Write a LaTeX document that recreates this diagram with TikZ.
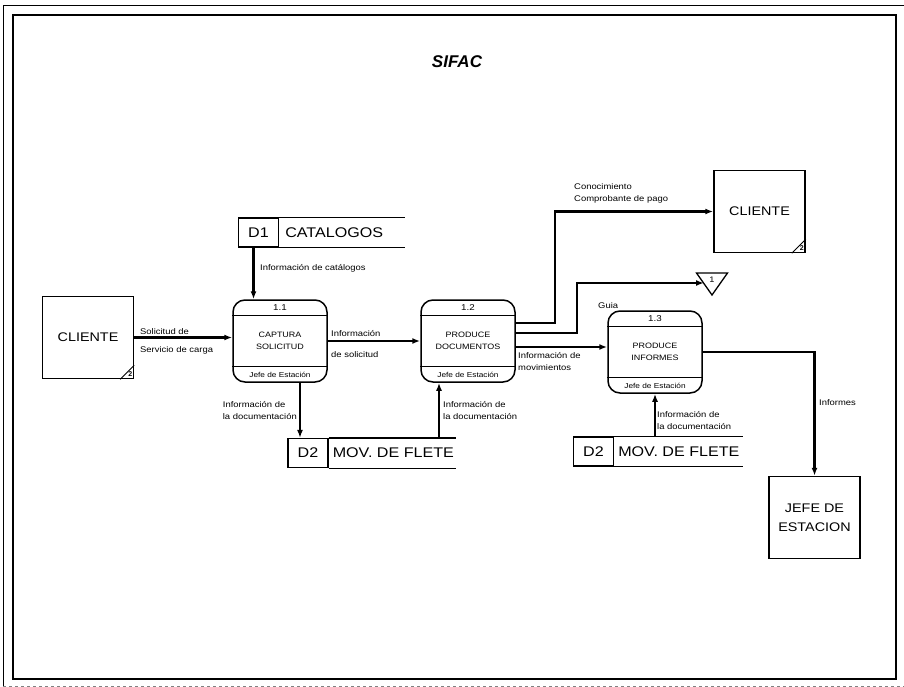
\documentclass[tikz,border=0pt]{standalone}
\usepackage{fontspec}
\setmainfont{Liberation Sans}
\newfontfamily\widesans[FakeStretch=1.15]{Liberation Sans}
\usetikzlibrary{arrows.meta,positioning}

\begin{document}
\begin{tikzpicture}[
    x=1pt, y=-1pt,
    entity/.style={rectangle, draw, line width=1.5pt, minimum width=91pt, minimum height=82pt, align=center, font=\widesans\fontsize{12.5}{19}\selectfont},
    proc/.style={rectangle, rounded corners=12pt, draw, line width=1.5pt, minimum width=94pt, minimum height=82pt, align=center, font=\widesans\fontsize{7.8}{12}\selectfont},
    procnum/.style={inner sep=0pt, font=\widesans\fontsize{8.5}{10}\selectfont},
    procrole/.style={inner sep=0pt, font=\widesans\fontsize{7.2}{9}\selectfont},
    storeid/.style={rectangle, draw, line width=1.2pt, minimum width=40pt, minimum height=29pt, inner sep=0pt, font=\widesans\fontsize{14}{16}\selectfont},
    storelbl/.style={inner sep=0pt, font=\widesans\fontsize{14}{16}\selectfont},
    lbl/.style={inner sep=0pt, align=left, font=\widesans\fontsize{8.2}{12}\selectfont},
    flow/.style={line width=2.1pt, -{Latex[length=8pt,width=6pt]}}
]
\useasboundingbox (0,0) rectangle (904,687);

% frame
\draw[line width=0.6pt] (904,5) -- (3,5) -- (3,687);
\draw[line width=0.6pt, gray, dashed] (3,686) -- (904,686);
\draw[line width=1.4pt] (13,15) rectangle (896,679);

\node[font=\fontsize{17}{20}\selectfont\bfseries\itshape] (title) at (457,62) {SIFAC};

% external entities
\node[entity] (cli1) at (88,337.5) {CLIENTE};
\node[entity] (cli2) at (759.5,211.5) {CLIENTE};
\node[entity] (jefe) at (814.5,517.5) {JEFE DE\\ESTACION};
\foreach \e in {cli1, cli2} {
  \draw[line width=0.9pt] ([xshift=-14pt]\e.south east) -- ([yshift=14pt]\e.south east);
  \node[font=\fontsize{7}{7}\selectfont\bfseries, inner sep=0pt] (\e-mark) at ([shift={(-4,-5)}]\e.south east) {2};
}

% processes
\foreach \n/\x/\y/\num/\txt in {p11/280/341/1.1/{CAPTURA\\SOLICITUD},
    p12/468/341/1.2/{PRODUCE\\DOCUMENTOS}, p13/655/352/1.3/{PRODUCE\\INFORMES}} {
  \node[proc] (\n) at (\x,\y) {\txt};
  \draw[line width=1.2pt] ([yshift=-16pt]\n.north west) -- ([yshift=-16pt]\n.north east);
  \draw[line width=1.2pt] ([yshift=16pt]\n.south west) -- ([yshift=16pt]\n.south east);
  \node[procnum] (\n-num) at ([yshift=-8pt]\n.north) {\num};
  \node[procrole] (\n-role) at ([yshift=8pt]\n.south) {Jefe de Estación};
}

% data stores
\node[storeid] (d1) at (258.5,232.5) {D1};
\node[storelbl, right=6pt of d1] (d1-lbl) {CATALOGOS};
\draw[line width=1.2pt] (d1.north east) -- ++(126,0) (d1.south east) -- ++(126,0);

\node[storeid] (d2a) at (308,453) {D2};
\node[storelbl, right=4pt of d2a] (d2a-lbl) {MOV. DE FLETE};
\draw[line width=1.2pt] (d2a.north east) -- ++(127,0) (d2a.south east) -- ++(127,0);

\node[storeid] (d2b) at (593.5,451.5) {D2};
\node[storelbl, right=4pt of d2b] (d2b-lbl) {MOV. DE FLETE};
\draw[line width=1.2pt] (d2b.north east) -- ++(129,0) (d2b.south east) -- ++(129,0);

% off-page connector
\node[font=\widesans\fontsize{8}{8}\selectfont, inner sep=0pt] (conn1) at (712,280) {1};
\draw[line width=1.3pt] ([shift={(-15.5,-7)}]conn1.center) -- ([shift={(15.5,-7)}]conn1.center)
    -- ([shift={(0,15)}]conn1.center) -- cycle;

% flows
\coordinate (d1out) at ([xshift=-5pt]d1.south);
\coordinate (p11out) at ([xshift=20pt]p11.south);
\coordinate (p12in) at ([xshift=-29pt]p12.south);
\draw[flow] (cli1.east) -- (cli1.east -| p11.west);
\draw[flow] (d1out) -- (d1out |- p11.north);
\draw[flow] (p11.east) -- (p12.west);
\draw[flow] (p11out) -- (p11out |- d2a.north);
\draw[flow] (p12in |- d2a.north) -- (p12in);
\draw[flow] ([yshift=18pt]p12.east) -- ++(39,0) |- (cli2.west);
\draw[flow] ([yshift=8pt]p12.east) -- ++(61,0) |- ([shift={(-8,3)}]conn1.center);
\draw[flow] ([yshift=-6pt]p12.east) -- ([yshift=-6pt]p12.east -| p13.west);
\draw[flow] (p13.south |- d2b.north) -- (p13.south);
\draw[flow] (p13.east) -| (jefe.north);

% flow labels
\node[lbl, anchor=west] (l-solic) at (140,332) {Solicitud de};
\node[lbl, anchor=west] (l-serv) at (140,350) {Servicio de carga};
\node[lbl, anchor=west] (l-cat) at (260,268) {Información de catálogos};
\node[lbl, anchor=west] (l-info) at (331,334) {Información};
\node[lbl, anchor=west] (l-sol) at (331,355) {de solicitud};
\node[lbl, anchor=west] (l-cono) at (574,193) {Conocimiento\\Comprobante de pago};
\node[lbl, anchor=west] (l-guia) at (598,306) {Guia};
\node[lbl, anchor=west] (l-mov) at (518,361.5) {Información de\\movimientos};
\node[lbl, anchor=east] (l-doc1) at (297,411) {Información de\\la documentación};
\node[lbl, anchor=west] (l-doc2) at (443,411) {Información de\\la documentación};
\node[lbl, anchor=west] (l-doc3) at (657,420.5) {Información de\\la documentación};
\node[lbl, anchor=west] (l-inf) at (819,403) {Informes};
\end{tikzpicture}
\end{document}
